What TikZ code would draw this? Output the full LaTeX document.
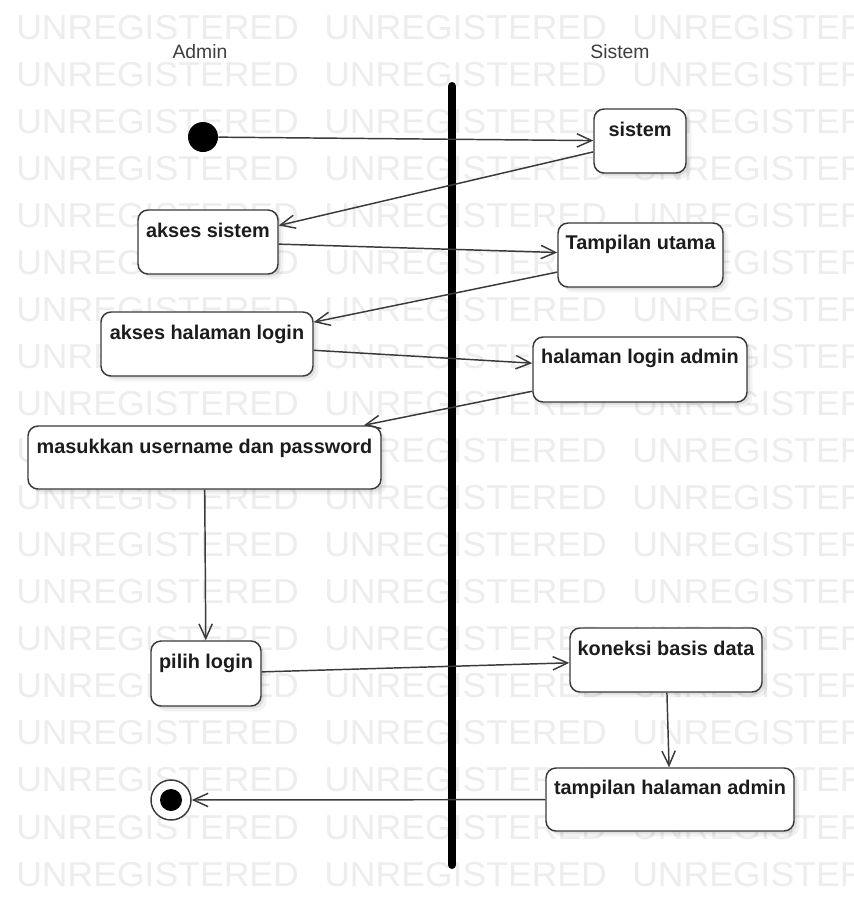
\documentclass[tikz,border=0pt]{standalone}
\usepackage{fontspec}
\setmainfont{Liberation Sans}
\newfontfamily\stampfont[FakeStretch=1.03]{Liberation Sans}
\usetikzlibrary{arrows.meta,calc,shadows}

\definecolor{wmgray}{gray}{0.93}
\definecolor{inkline}{HTML}{3A3A3A}
\definecolor{inktext}{HTML}{1C1C1C}

\tikzset{
  wmtext/.style={inner sep=0pt, anchor=base west, text=wmgray,
    font=\stampfont\fontsize{25.9}{30}\selectfont},
  lanelabel/.style={inner sep=0pt, anchor=base, text=inktext!85,
    font=\fontsize{14.5}{17}\selectfont},
  actbox/.style={draw=inkline, line width=1.1pt, fill=white,
    rounded corners=7.5pt, inner sep=0pt,
    drop shadow={shadow xshift=2pt, shadow yshift=-2pt, opacity=0.07, fill=black},
    drop shadow={shadow xshift=4pt, shadow yshift=-4pt, opacity=0.05, fill=black}},
  acttext/.style={inner sep=0pt, anchor=base, text=inktext,
    font=\fontsize{14.9}{18}\selectfont\bfseries},
  initnode/.style={circle, fill=black, minimum size=22.5pt, inner sep=0pt},
  finalring/.style={circle, draw=inkline, line width=1.1pt, fill=white,
    minimum size=30pt, inner sep=0pt},
  finaldot/.style={circle, fill=black, minimum size=16.5pt, inner sep=0pt},
  flow/.style={draw=inkline, line width=1.1pt,
    -{Straight Barb[length=11pt, width=10pt, line width=1.1pt]}},
  lane/.style={line width=6pt, line cap=round, draw=black},
}

\begin{document}
\begin{tikzpicture}[x=0.75pt, y=-0.75pt]
  \useasboundingbox (0,0) rectangle (854,897);
  \fill[white] (0,0) rectangle (854,897);

  % background stamp rows
  \begin{scope}
    \clip (0,0) rectangle (854,897);
    \foreach \k in {0,...,18} {
      \foreach \j in {0,1,2} {
        \node[wmtext] at ({16+308*\j}, {39+47.06*\k}) {UNREGISTERED};
      }
    }
  \end{scope}

  % swimlane headers and divider
  \node[lanelabel] (hadmin) at (200,58) {Admin};
  \node[lanelabel] (hsistem) at (620,58) {Sistem};
  \coordinate (laneTop) at (452,86);
  \coordinate (laneBot) at (452,865);
  \draw[lane] (laneTop) -- (laneBot);

  % activities
  \node[actbox, minimum width=69pt,    minimum height=48pt]   (s1) at (640,141)   {};
  \node[actbox, minimum width=105pt,   minimum height=48pt]   (a1) at (208,242)   {};
  \node[actbox, minimum width=123.75pt,minimum height=48pt]   (s2) at (640.5,255) {};
  \node[actbox, minimum width=159pt,   minimum height=48pt]   (a2) at (207,344)   {};
  \node[actbox, minimum width=160.5pt, minimum height=48.75pt](s3) at (640,369.5) {};
  \node[actbox, minimum width=264.75pt,minimum height=47.25pt](a3) at (204.5,457.5){};
  \node[actbox, minimum width=82.5pt,  minimum height=48.75pt](a4) at (206,673.5) {};
  \node[actbox, minimum width=144pt,   minimum height=48pt]   (s4) at (666,660)   {};
  \node[actbox, minimum width=186pt,   minimum height=47.25pt](s5) at (670,799.5) {};

  \node[acttext] (t1) at ($(s1.north)+(0,28)$) {sistem};
  \node[acttext] (t2) at ($(a1.north)+(0,28)$) {akses sistem};
  \node[acttext] (t3) at ($(s2.north)+(0,27)$) {Tampilan utama};
  \node[acttext] (t4) at ($(a2.north)+(0,28)$) {akses halaman login};
  \node[acttext] (t5) at ($(s3.north)+(0,27)$) {halaman login admin};
  \node[acttext] (t6) at ($(a3.north)+(0,28)$) {masukkan username dan password};
  \node[acttext] (t7) at ($(a4.north)+(0,28)$) {pilih login};
  \node[acttext] (t8) at ($(s4.north)+(0,28)$) {koneksi basis data};
  \node[acttext] (t9) at ($(s5.north)+(0,27)$) {tampilan halaman admin};

  % start and end
  \node[initnode] (start) at (203,137) {};
  \node[finalring] (stop) at (171,800) {};
  \node[finaldot] (stopdot) at (171,800) {};

  % control flow
  \draw[flow] (start) -- (s1);
  \draw[flow] (s1) -- (a1);
  \draw[flow] (a1) -- (s2);
  \draw[flow] (s2) -- (a2);
  \draw[flow] (a2) -- (s3);
  \draw[flow] (s3) -- (a3);
  \draw[flow] (a3) -- (a4);
  \draw[flow] (a4) -- (s4);
  \draw[flow] (s4) -- (s5);
  \draw[flow] (s5) -- (stop);
\end{tikzpicture}
\end{document}
